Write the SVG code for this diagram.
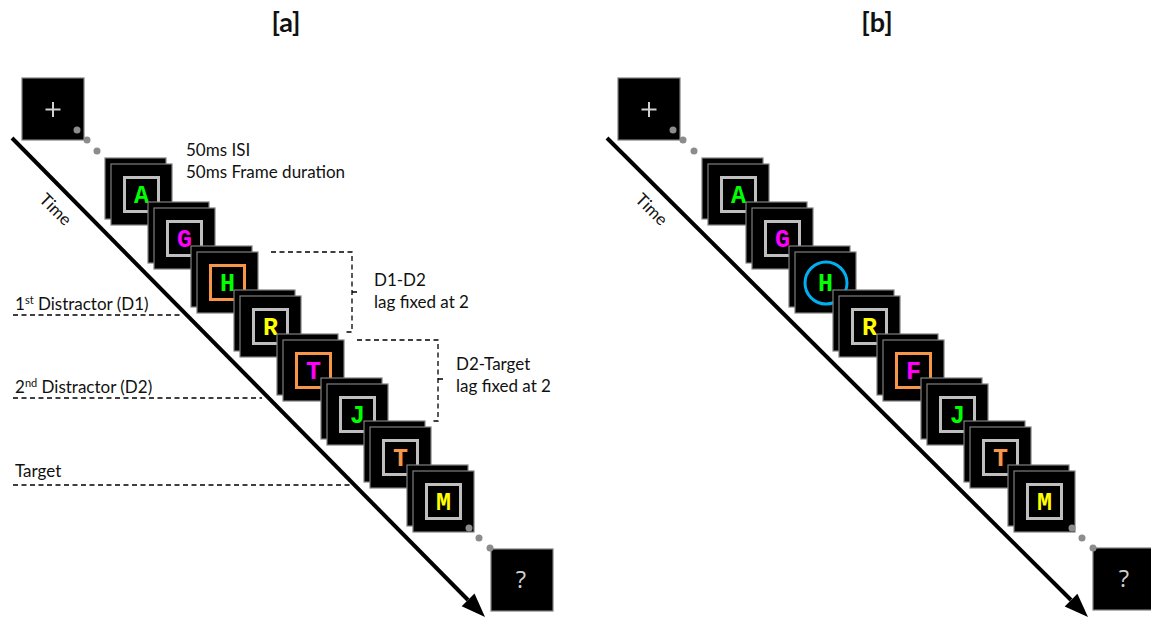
<svg xmlns="http://www.w3.org/2000/svg" xmlns:xlink="http://www.w3.org/1999/xlink" width="1151" height="619" viewBox="0 0 1151 619">
<style>
  .lbl { font-family: Lato, "Open Sans", sans-serif; font-size: 17px; fill: #111; }
  .title { font-family: Lato, "Open Sans", sans-serif; font-size: 27px; font-weight: bold; fill: #111; text-anchor: middle; }
  .box { fill: #000; stroke: #7f7f7f; stroke-width: 1.2; }
  .inner { fill: none; stroke-width: 3; }
  .gray { stroke: #bfbfbf; }
  .orangeb { stroke: #f79646; }
  .ltr { font-family: "Liberation Mono", "Courier New", monospace; font-weight: bold; font-size: 25px; text-anchor: middle; }
  .g { fill: #00ff00; } .m { fill: #ff00ff; } .y { fill: #ffff00; } .o { fill: #f79646; }
  .dot { fill: #8c8c8c; }
  .sym { font-family: "Open Sans", Lato, sans-serif; font-size: 24px; fill: #cfcfcf; text-anchor: middle; }
  .dash { fill: none; stroke: #000; stroke-width: 1.3; stroke-dasharray: 5 3.5; }
  .axis { stroke: #000; stroke-width: 4; }
</style>
<defs>
  <g id="stack">
    <rect class="box" x="-6" y="-6" width="61" height="61"/>
    <rect class="box" x="0" y="0" width="61" height="61"/>
  </g>
</defs>

<text class="title" x="286" y="32">[a]</text>
<text class="title" x="877" y="32">[b]</text>

<!-- labels -->
<text class="lbl" transform="translate(55,210) rotate(45)" text-anchor="middle" dy="5">Time</text>
<text class="lbl" transform="translate(651,210) rotate(45)" text-anchor="middle" dy="5">Time</text>
<text class="lbl" x="186" y="156">50ms ISI</text>
<text class="lbl" x="186" y="178">50ms Frame duration</text>
<text class="lbl" x="374" y="286">D1-D2</text>
<text class="lbl" x="374" y="308">lag fixed at 2</text>
<text class="lbl" x="456" y="370">D2-Target</text>
<text class="lbl" x="456" y="392">lag fixed at 2</text>
<text class="lbl" x="15" y="310">1<tspan font-size="11" dy="-6">st</tspan><tspan dy="6"> Distractor (D1)</tspan></text>
<text class="lbl" x="15" y="393">2<tspan font-size="11" dy="-6">nd</tspan><tspan dy="6"> Distractor (D2)</tspan></text>
<text class="lbl" x="15" y="477">Target</text>

<!-- panel a nodes -->
<g id="a-fix">
  <rect class="box" x="22" y="78" width="62" height="62"/>
  <path d="M45.5,109.5 H60.5 M53,102 V117" stroke="#d0d0d0" stroke-width="2"/>
</g>
<g id="a-f1" transform="translate(111,164)"><use xlink:href="#stack"/><rect class="inner gray" x="13.5" y="13.5" width="34" height="34"/><text class="ltr g" x="30.5" y="38.5">A</text></g>
<g id="a-f2" transform="translate(154,208)"><use xlink:href="#stack"/><rect class="inner gray" x="13.5" y="13.5" width="34" height="34"/><text class="ltr m" x="30.5" y="38.5">G</text></g>
<g id="a-f3" transform="translate(197,252)"><use xlink:href="#stack"/><rect class="inner orangeb" x="13.5" y="13.5" width="34" height="34"/><text class="ltr g" x="30.5" y="38.5">H</text></g>
<g id="a-f4" transform="translate(240,296)"><use xlink:href="#stack"/><rect class="inner gray" x="13.5" y="13.5" width="34" height="34"/><text class="ltr y" x="30.5" y="38.5">R</text></g>
<g id="a-f5" transform="translate(283,340)"><use xlink:href="#stack"/><rect class="inner orangeb" x="13.5" y="13.5" width="34" height="34"/><text class="ltr m" x="30.5" y="38.5">T</text></g>
<g id="a-f6" transform="translate(327,384)"><use xlink:href="#stack"/><rect class="inner gray" x="13.5" y="13.5" width="34" height="34"/><text class="ltr g" x="30.5" y="38.5">J</text></g>
<g id="a-f7" transform="translate(370,427)"><use xlink:href="#stack"/><rect class="inner gray" x="13.5" y="13.5" width="34" height="34"/><text class="ltr o" x="30.5" y="38.5">T</text></g>
<g id="a-f8" transform="translate(413,471)"><use xlink:href="#stack"/><rect class="inner gray" x="13.5" y="13.5" width="34" height="34"/><text class="ltr y" x="30.5" y="38.5">M</text></g>
<g id="a-q">
  <rect class="box" x="491" y="549" width="62" height="62"/>
  <text class="sym" x="521" y="588">?</text>
</g>

<!-- panel b nodes -->
<g id="b-fix">
  <rect class="box" x="618" y="78" width="62" height="62"/>
  <path d="M641.5,109.5 H656.5 M649,102 V117" stroke="#d0d0d0" stroke-width="2"/>
</g>
<g id="b-f1" transform="translate(708,164)"><use xlink:href="#stack"/><rect class="inner gray" x="13.5" y="13.5" width="34" height="34"/><text class="ltr g" x="30.5" y="38.5">A</text></g>
<g id="b-f2" transform="translate(752,208)"><use xlink:href="#stack"/><rect class="inner gray" x="13.5" y="13.5" width="34" height="34"/><text class="ltr m" x="30.5" y="38.5">G</text></g>
<g id="b-f3" transform="translate(795,252)"><use xlink:href="#stack"/><circle cx="31" cy="31" r="21" fill="none" stroke="#00b0f0" stroke-width="3"/><text class="ltr g" x="30.5" y="38.5">H</text></g>
<g id="b-f4" transform="translate(839,296)"><use xlink:href="#stack"/><rect class="inner gray" x="13.5" y="13.5" width="34" height="34"/><text class="ltr y" x="30.5" y="38.5">R</text></g>
<g id="b-f5" transform="translate(883,340)"><use xlink:href="#stack"/><rect class="inner orangeb" x="13.5" y="13.5" width="34" height="34"/><text class="ltr m" x="30.5" y="38.5">F</text></g>
<g id="b-f6" transform="translate(927,384)"><use xlink:href="#stack"/><rect class="inner gray" x="13.5" y="13.5" width="34" height="34"/><text class="ltr g" x="30.5" y="38.5">J</text></g>
<g id="b-f7" transform="translate(970,427)"><use xlink:href="#stack"/><rect class="inner gray" x="13.5" y="13.5" width="34" height="34"/><text class="ltr o" x="30.5" y="38.5">T</text></g>
<g id="b-f8" transform="translate(1014,471)"><use xlink:href="#stack"/><rect class="inner gray" x="13.5" y="13.5" width="34" height="34"/><text class="ltr y" x="30.5" y="38.5">M</text></g>
<g id="b-q">
  <rect class="box" x="1093" y="548" width="62" height="62"/>
  <text class="sym" x="1124" y="587">?</text>
</g>

<!-- connectors / axes (drawn on top) -->
<g id="connectors">
  <line class="axis" x1="12" y1="138" x2="468" y2="600"/>
  <polygon points="485,617 461.7,606.2 474.5,593.6" fill="#000"/>
  <line class="axis" x1="607" y1="138" x2="1071" y2="600"/>
  <polygon points="1088,617 1064.7,606.5 1077.4,593.7" fill="#000"/>
  <path class="dash" d="M13,315 H183"/>
  <path class="dash" d="M13,398 H262"/>
  <path class="dash" d="M13,485 H350"/>
  <path class="dash" d="M271,252 H352 V332 H345 M352,292 H357"/>
  <path class="dash" d="M357,340 H438 V421 H432 M438,379 H443"/>
  <circle class="dot" cx="77" cy="130" r="3.5"/>
  <circle class="dot" cx="87" cy="140" r="3.5"/>
  <circle class="dot" cx="97" cy="151" r="3.5"/>
  <circle class="dot" cx="469" cy="528" r="3.5"/>
  <circle class="dot" cx="479" cy="538" r="3.5"/>
  <circle class="dot" cx="490" cy="548" r="3.5"/>
  <circle class="dot" cx="673" cy="130" r="3.5"/>
  <circle class="dot" cx="683" cy="140" r="3.5"/>
  <circle class="dot" cx="694" cy="151" r="3.5"/>
  <circle class="dot" cx="1072" cy="528" r="3.5"/>
  <circle class="dot" cx="1082" cy="538" r="3.5"/>
  <circle class="dot" cx="1093" cy="548" r="3.5"/>
</g>
</svg>
